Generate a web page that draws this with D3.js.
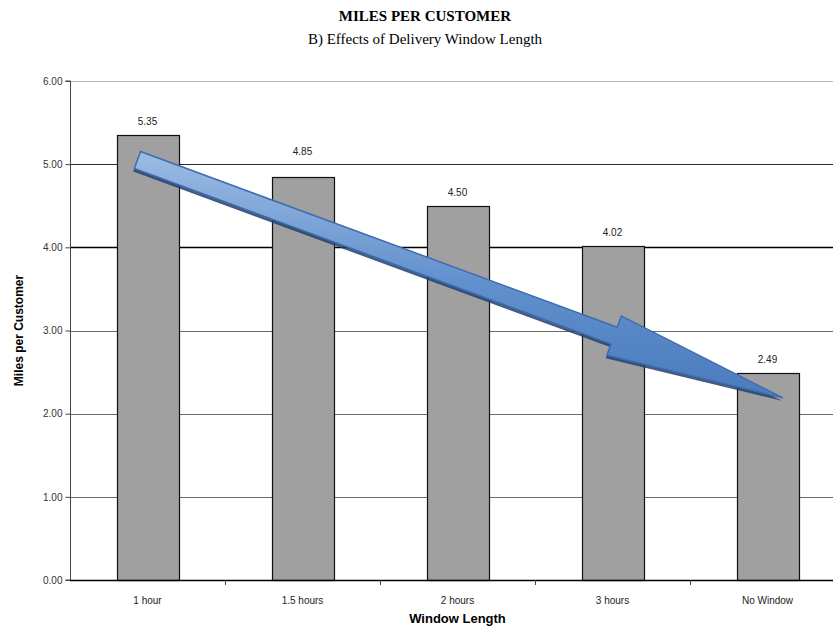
<!DOCTYPE html>
<html>
<head>
<meta charset="utf-8">
<script src="https://cdn.jsdelivr.net/npm/d3@7"></script>
<style>
	html, body { margin: 0; padding: 0; background: #fff; }
	svg { display: block; }
</style>
</head>
<body>
<div id="graphic"></div>
<script>

// chart data
const categories = [ "1 hour", "1.5 hours", "2 hours", "3 hours", "No Window" ];
const miles = [ 5.35, 4.85, 4.50, 4.02, 2.49 ];
const yTicks = [ 0, 1, 2, 3, 4, 5, 6 ];

// arrow annotation, in (category index, value) units
const arrowFrom = [ -0.065, 5.05 ];
const arrowTo = [ 4.1, 2.19 ];

const width = 833, height = 627;
const margin = { top: 81, right: -12, bottom: 47, left: 70 };

let svg = d3.select( "#graphic" )
	.append( "svg" )
		.attr( "width", width )
		.attr( "height", height );

let x = d3.scaleBand()
	.domain( categories )
	.range( [ margin.left, width - margin.right ] )
	.paddingInner( 0.6 )
	.paddingOuter( 0.3 );

let y = d3.scaleLinear()
	.domain( [ 0, 6 ] )
	.range( [ height - margin.bottom, margin.top ] );

// continuous position across the categories (index -> band centre)
let xi = d3.scaleLinear()
	.domain( [ 0, 1 ] )
	.range( [ x( categories[0] ) + x.bandwidth() / 2, x( categories[1] ) + x.bandwidth() / 2 ] );

///////////////////////////////////////////////////////////////////////
// titles

svg.append( "text" )
	.attr( "x", 425 ).attr( "y", 21 )
	.attr( "text-anchor", "middle" )
	.style( "font", "bold 15px 'Liberation Serif', 'Times New Roman', serif" )
	.text( "MILES PER CUSTOMER" );

svg.append( "text" )
	.attr( "x", 425 ).attr( "y", 44 )
	.attr( "text-anchor", "middle" )
	.style( "font", "15px 'Liberation Serif', 'Times New Roman', serif" )
	.text( "B) Effects of Delivery Window Length" );

///////////////////////////////////////////////////////////////////////
// gridlines

function gridColor( t ) {
	if( t === 6 ) return( "#b4b4b4" );
	if( t === 5 ) return( "#2a2a2a" );
	if( t === 4 ) return( "#000" );
	return( "#6a6a6a" );
}

svg.append( "g" )
	.selectAll( "line" )
	.data( yTicks.filter( t => t > 0 ) )
	.join( "line" )
		.attr( "x1", margin.left )
		.attr( "x2", width )
		.attr( "y1", d => Math.round( y( d ) ) + 0.5 )
		.attr( "y2", d => Math.round( y( d ) ) + 0.5 )
		.attr( "stroke", d => gridColor( d ) )
		.attr( "stroke-width", d => d === 4 ? 1.6 : 1 );

///////////////////////////////////////////////////////////////////////
// bars

svg.append( "g" )
	.selectAll( "rect" )
	.data( miles )
	.join( "rect" )
		.attr( "x", ( d, i ) => Math.round( x( categories[i] ) ) + 0.5 )
		.attr( "y", d => Math.round( y( d ) ) + 0.5 )
		.attr( "width", Math.round( x.bandwidth() ) )
		.attr( "height", d => Math.round( y( 0 ) ) - Math.round( y( d ) ) )
		.attr( "fill", "#a0a0a0" )
		.attr( "stroke", "#111" )
		.attr( "stroke-width", 1.2 );

// value labels, bumped above a gridline when they would sit on it
svg.append( "g" )
	.selectAll( "text" )
	.data( miles )
	.join( "text" )
		.attr( "x", ( d, i ) => x( categories[i] ) + x.bandwidth() / 2 )
		.attr( "y", d => {
			let ly = y( d ) - 10;
			let g = y( Math.ceil( d ) );
			if( ly > g - 4 && ly < g + 12 ) ly = g - 9;
			return( ly );
		} )
		.attr( "text-anchor", "middle" )
		.style( "font", "10px 'Liberation Sans', Arial, sans-serif" )
		.attr( "fill", "#222" )
		.text( d => d.toFixed( 2 ) );

///////////////////////////////////////////////////////////////////////
// axes

let yAxis = d3.axisLeft( y )
	.tickValues( yTicks )
	.tickFormat( d3.format( ".2f" ) )
	.tickSize( 5 )
	.tickPadding( 3 );

let gy = svg.append( "g" )
	.attr( "transform", `translate(${ margin.left + 0.5 },0)` )
	.call( yAxis );
gy.select( ".domain" ).attr( "stroke", "#444" ).attr( "d", `M-5,${ y( 0 ) }H0V${ y( 6 ) }H-5` );
gy.selectAll( ".tick line" ).attr( "stroke", "#444" );
gy.selectAll( ".tick text" )
	.style( "font", "10px 'Liberation Sans', Arial, sans-serif" )
	.attr( "fill", "#333" );

// baseline with category boundary ticks
let base = svg.append( "g" );
base.append( "line" )
	.attr( "x1", margin.left ).attr( "x2", width )
	.attr( "y1", Math.round( y( 0 ) ) + 0.5 ).attr( "y2", Math.round( y( 0 ) ) + 0.5 )
	.attr( "stroke", "#000" ).attr( "stroke-width", 1.4 );
base.selectAll( "line.sep" )
	.data( categories.slice( 1 ) )
	.join( "line" )
		.attr( "class", "sep" )
		.attr( "x1", d => Math.round( x( d ) - x.step() * x.paddingInner() / 2 ) + 0.5 )
		.attr( "x2", d => Math.round( x( d ) - x.step() * x.paddingInner() / 2 ) + 0.5 )
		.attr( "y1", y( 0 ) )
		.attr( "y2", y( 0 ) + 5 )
		.attr( "stroke", "#444" );

svg.append( "g" )
	.selectAll( "text" )
	.data( categories )
	.join( "text" )
		.attr( "x", d => x( d ) + x.bandwidth() / 2 )
		.attr( "y", y( 0 ) + 24 )
		.attr( "text-anchor", "middle" )
		.style( "font", "10px 'Liberation Sans', Arial, sans-serif" )
		.attr( "fill", "#222" )
		.text( d => d );

svg.append( "text" )
	.attr( "x", xi( 2 ) ).attr( "y", 623 )
	.attr( "text-anchor", "middle" )
	.style( "font", "bold 13px 'Liberation Sans', Arial, sans-serif" )
	.text( "Window Length" );

svg.append( "text" )
	.attr( "transform", `translate(23,${ y( 3 ) }) rotate(-90)` )
	.attr( "text-anchor", "middle" )
	.style( "font", "bold 12px 'Liberation Sans', Arial, sans-serif" )
	.text( "Miles per Customer" );

///////////////////////////////////////////////////////////////////////
// block arrow

let defs = svg.append( "defs" );
let grad = defs.append( "linearGradient" )
	.attr( "id", "arrowFill" )
	.attr( "x1", "0" ).attr( "y1", "0" ).attr( "x2", "0" ).attr( "y2", "1" );
grad.append( "stop" ).attr( "offset", "0" ).attr( "stop-color", "#9cbbe3" );
grad.append( "stop" ).attr( "offset", "0.55" ).attr( "stop-color", "#5f8fcc" );
grad.append( "stop" ).attr( "offset", "1" ).attr( "stop-color", "#4a7bbd" );

function arrowPath( p0, p1, shaftHalf, headHalf, headLen ) {
	let dx = p1[0] - p0[0], dy = p1[1] - p0[1];
	let len = Math.hypot( dx, dy );
	let ux = dx / len, uy = dy / len;
	let nx = -uy, ny = ux;
	let bx = p1[0] - ux * headLen, by = p1[1] - uy * headLen;
	let pts = [
		[ p0[0] + nx * shaftHalf, p0[1] + ny * shaftHalf ],
		[ bx + nx * shaftHalf, by + ny * shaftHalf ],
		[ bx + nx * headHalf, by + ny * headHalf ],
		p1,
		[ bx - nx * headHalf, by - ny * headHalf ],
		[ bx - nx * shaftHalf, by - ny * shaftHalf ],
		[ p0[0] - nx * shaftHalf, p0[1] - ny * shaftHalf ]
	];
	return( d3.line()( pts ) + "Z" );
}

let a0 = [ xi( arrowFrom[0] ), y( arrowFrom[1] ) ];
let a1 = [ xi( arrowTo[0] ), y( arrowTo[1] ) ];

let arrow = svg.append( "g" );
arrow.append( "path" )
	.attr( "d", arrowPath( a0, a1, 9, 21, 180 ) )
	.attr( "transform", "translate(-1,3)" )
	.attr( "fill", "#23406b" )
	.attr( "opacity", 0.85 );
arrow.append( "path" )
	.attr( "d", arrowPath( a0, a1, 9, 21, 180 ) )
	.attr( "fill", "url(#arrowFill)" )
	.attr( "stroke", "#3e6cb0" )
	.attr( "stroke-width", 1.5 )
	.attr( "stroke-linejoin", "miter" );

</script>
</body>
</html>
